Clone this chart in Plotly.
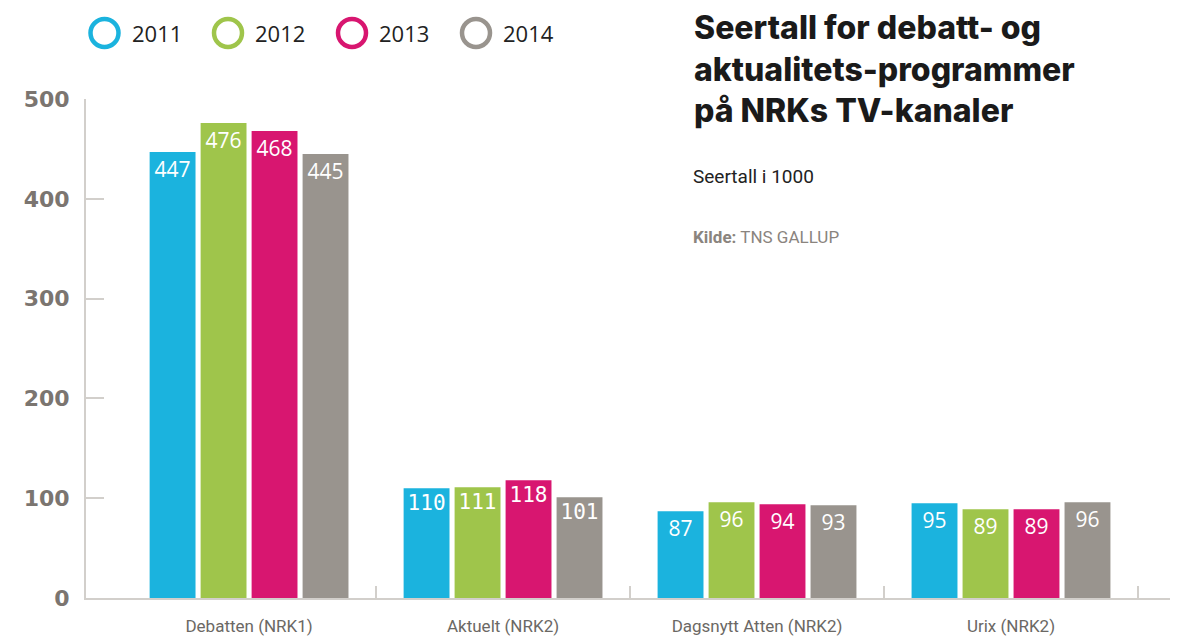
import plotly.graph_objects as go

categories = ["Debatten (NRK1)", "Aktuelt (NRK2)", "Dagsnytt Atten (NRK2)", "Urix (NRK2)"]
years = ["2011", "2012", "2013", "2014"]
values_2011 = [447, 110, 87, 95]
values_2012 = [476, 111, 96, 89]
values_2013 = [468, 118, 94, 89]
values_2014 = [445, 101, 93, 96]
series = [values_2011, values_2012, values_2013, values_2014]
colors = ["#1bb3de", "#9fc54b", "#d81670", "#99948e"]

W, H = 1189, 639
ML, MR, MT, MB = 86, 19, 99, 41
PW, PH = W - ML - MR, H - MT - MB


def px_x(px):
    return (px - ML) / PW


def px_y(py):
    return (H - MB - py) / PH


label_fonts = ["Open Sans", "DejaVu Sans Mono", "Open Sans", "Open Sans"]

fig = go.Figure()
for name, vals, col in zip(years, series, colors):
    fig.add_trace(go.Bar(
        x=categories, y=vals, name=name, marker=dict(color=col, line=dict(width=0)),
        text=[str(v) for v in vals], textposition="inside", insidetextanchor="end",
        textangle=0, constraintext="none",
        textfont=dict(color="white", size=21, family=label_fonts),
        showlegend=False, hoverinfo="x+y+name",
    ))

xr = [-0.642, 3.626]
fig.update_layout(
    width=W, height=H,
    margin=dict(l=ML, r=MR, t=MT, b=MB, autoexpand=False),
    paper_bgcolor="white", plot_bgcolor="white",
    barmode="group", bargap=0.197, bargroupgap=0.1,
    xaxis=dict(range=xr, showline=True, linecolor="#d2cfcb", linewidth=2,
               ticks="", showgrid=False, zeroline=False, automargin=False,
               tickfont=dict(family="Roboto", size=17, color="#6b6864"),
               ticklabelstandoff=12),
    xaxis2=dict(range=xr, overlaying="x", anchor="y", side="bottom", showline=False,
                tickmode="array", tickvals=[i + 0.5 for i in range(len(categories))],
                ticks="inside", ticklen=12, tickwidth=2, tickcolor="#d2cfcb",
                showticklabels=False, showgrid=False, zeroline=False, automargin=False),
    yaxis=dict(range=[0, 500], tickvals=[0, 100, 200, 300, 400, 500],
               showline=True, linecolor="#d2cfcb", linewidth=2,
               ticks="inside", ticklen=18, tickwidth=2, tickcolor="#d2cfcb",
               showgrid=False, zeroline=False, automargin=False,
               tickfont=dict(family="DejaVu Sans", size=22, color="#7b7570", weight="bold"),
               ticklabelstandoff=10),
)
fig.add_trace(go.Scatter(x=[None], y=[None], xaxis="x2", yaxis="y", showlegend=False, hoverinfo="skip"))

# custom legend (open circles + labels)
legend_centers = [104.5, 228, 352, 476]
for name, col, cx in zip(years, colors, legend_centers):
    fig.add_shape(type="circle", xref="paper", yref="paper",
                  xsizemode="pixel", ysizemode="pixel",
                  xanchor=px_x(cx), yanchor=px_y(33),
                  x0=-14, x1=14, y0=-14, y1=14,
                  line=dict(color=col, width=4.5), fillcolor="rgba(0,0,0,0)")
    fig.add_annotation(x=px_x(cx + 25), y=px_y(33), xref="paper", yref="paper",
                       xanchor="left", yanchor="middle", showarrow=False, text=name,
                       font=dict(family="Open Sans", size=22, color="#222222"))

fig.add_annotation(x=px_x(692), y=px_y(69), xref="paper", yref="paper",
                   xanchor="left", yanchor="middle", align="left", showarrow=False,
                   text="Seertall for debatt- og<br>aktualitets-programmer<br>på NRKs TV-kanaler",
                   font=dict(family="Inter", size=32, color="#1a1a1a", weight=800))
fig.add_annotation(x=px_x(691), y=px_y(176), xref="paper", yref="paper",
                   xanchor="left", yanchor="middle", showarrow=False,
                   text="Seertall i 1000",
                   font=dict(family="Roboto", size=19, color="#222222"))
fig.add_annotation(x=px_x(691), y=px_y(237), xref="paper", yref="paper",
                   xanchor="left", yanchor="middle", showarrow=False,
                   text="<b>Kilde:</b> TNS GALLUP",
                   font=dict(family="Roboto", size=17, color="#8a847e"))

fig.write_html("out.html", config={"displayModeBar": False},
               post_script="document.body.style.margin='0';")
